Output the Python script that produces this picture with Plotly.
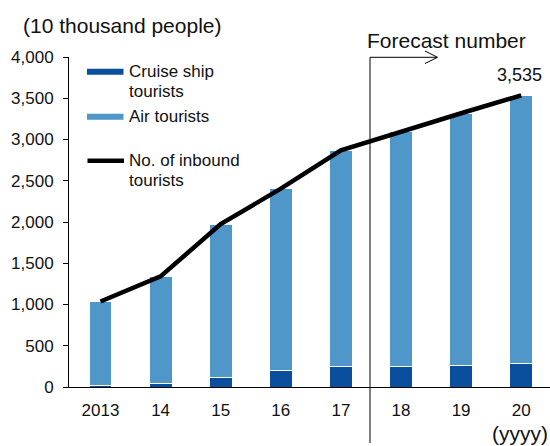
import plotly.graph_objects as go

years = ["2013", "14", "15", "16", "17", "18", "19", "20"]
inbound_total = [1036, 1341, 1974, 2404, 2869, 3100, 3318, 3535]
cruise = [17, 42, 112, 199, 253, 253, 265, 280]
air = [t - c for t, c in zip(inbound_total, cruise)]

C_CRUISE = "#0A4F9E"
C_AIR = "#4F96C9"
FONT = "Liberation Sans, Arial, sans-serif"

W, H = 550, 446
L, R, T, B = 69, 0, 57, 59
PW = W - L - R
PH = H - T - B


def px(x):
    return (x - L) / PW


def py(y):
    return (H - B - y) / PH


fig = go.Figure()
fig.add_trace(go.Bar(x=years, y=cruise, name="Cruise ship tourists",
                     marker=dict(color=C_CRUISE, line=dict(color="white", width=1)),
                     width=0.38, showlegend=False))
fig.add_trace(go.Bar(x=years, y=air, name="Air tourists",
                     marker=dict(color=C_AIR, line=dict(color="white", width=1)),
                     width=0.38, showlegend=False))
fig.add_trace(go.Scatter(x=years, y=inbound_total, mode="lines",
                         name="No. of inbound tourists",
                         line=dict(color="black", width=4.5), showlegend=False))

shapes = []
annotations = []

# forecast divider & arrow
shapes.append(dict(type="line", xref="paper", yref="paper",
                   x0=px(370), x1=px(370), y0=py(57.3), y1=py(443),
                   line=dict(color="black", width=1)))
shapes.append(dict(type="line", xref="paper", yref="paper",
                   x0=px(370), x1=px(437), y0=py(57.3), y1=py(57.3),
                   line=dict(color="black", width=1)))
shapes.append(dict(type="path", xref="paper", yref="paper",
                   path=f"M {px(425)},{py(51)} L {px(437.5)},{py(57.3)} L {px(425)},{py(63.5)}",
                   line=dict(color="black", width=1)))

# custom legend
shapes.append(dict(type="rect", xref="paper", yref="paper",
                   x0=px(87), x1=px(123.5), y0=py(68.7), y1=py(74.7),
                   fillcolor=C_CRUISE, line=dict(width=0)))
shapes.append(dict(type="rect", xref="paper", yref="paper",
                   x0=px(87), x1=px(123.5), y0=py(113.7), y1=py(119.7),
                   fillcolor=C_AIR, line=dict(width=0)))
shapes.append(dict(type="line", xref="paper", yref="paper",
                   x0=px(87.5), x1=px(124), y0=py(160.7), y1=py(160.7),
                   line=dict(color="black", width=4.5)))

legend_lines = [("Cruise ship", 71.7), ("tourists", 91.7), ("Air tourists", 116.7),
                ("No. of inbound", 160.7), ("tourists", 180.5)]
for txt, yy in legend_lines:
    annotations.append(dict(text=txt, xref="paper", yref="paper", x=px(126.5), y=py(yy),
                            xanchor="left", yanchor="middle", showarrow=False,
                            font=dict(size=17, color="#111", family=FONT)))

annotations.append(dict(text="(10 thousand people)", xref="paper", yref="paper",
                        x=px(21), y=py(25), xanchor="left", yanchor="middle",
                        showarrow=False, font=dict(size=21, color="#111", family=FONT)))
annotations.append(dict(text="Forecast number", xref="paper", yref="paper",
                        x=px(365), y=py(40.5), xanchor="left", yanchor="middle",
                        showarrow=False, font=dict(size=21, color="#111", family=FONT)))
annotations.append(dict(text="(yyyy)", xref="paper", yref="paper",
                        x=px(550), y=py(433), xanchor="right", yanchor="middle",
                        showarrow=False, font=dict(size=21, color="#111", family=FONT)))
annotations.append(dict(text=f"{inbound_total[-1]:,}", xref="paper", yref="paper",
                        x=px(519), y=py(75), yanchor="middle", xanchor="center",
                        showarrow=False, font=dict(size=18, color="#111", family=FONT)))

fig.update_layout(
    width=W, height=H,
    margin=dict(l=L, r=R, t=T, b=B, pad=0),
    paper_bgcolor="white", plot_bgcolor="white",
    barmode="stack",
    shapes=shapes, annotations=annotations,
    font=dict(family=FONT, size=17, color="#111"),
    xaxis=dict(type="category", range=[-0.524, 7.479], showline=True,
               linecolor="black", linewidth=1, ticks="", showgrid=False,
               zeroline=False, ticklabelstandoff=8,
               tickfont=dict(size=17, color="#111", family=FONT)),
    yaxis=dict(range=[0, 4000], tickvals=list(range(0, 4001, 500)), tickformat=",",
               showline=True, linecolor="black", linewidth=1, ticks="outside",
               ticklen=5, tickcolor="black", showgrid=False, zeroline=False,
               ticklabelstandoff=6,
               tickfont=dict(size=17, color="#111", family=FONT)),
)

fig.write_html("out.html")
